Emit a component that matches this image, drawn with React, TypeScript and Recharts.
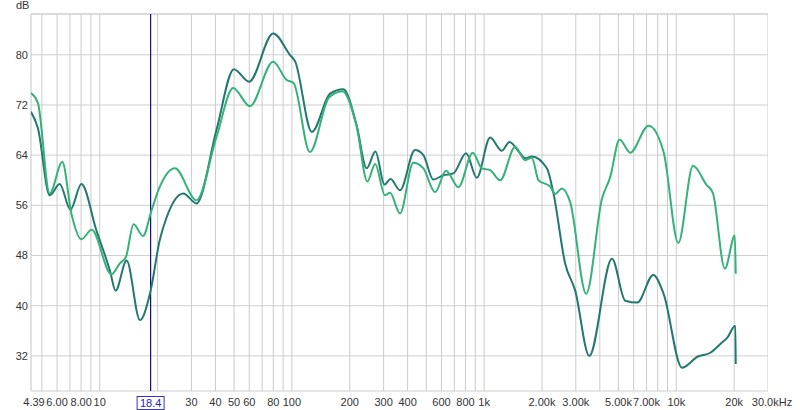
import React from 'react';
import { LineChart, Line, XAxis, YAxis, CartesianGrid, ReferenceLine } from 'recharts';

// frequency response, two measurements (Hz / dB)
const darkFreq = [4.39, 4.77, 5.49, 6.19, 7.04, 8.03, 9.61, 11.3, 12.1, 13.8, 16.2, 18.4, 20.5, 22.3, 27.2, 31.9, 40.5, 49.9, 59.9, 79.9, 97.6, 104, 127, 158, 185, 217, 245, 272, 303, 326, 365, 437, 483, 544, 614, 692, 806, 916, 1075, 1237, 1355, 1540, 1635, 1772, 2122, 2296, 2642, 2979, 3524, 4627, 5425, 6266, 7590, 8589, 10708, 12942, 15034, 16950, 18432, 20290, 20380];
const darkDb = [70.9, 68.3, 57.6, 59.4, 55.3, 59.4, 52.0, 45.6, 42.4, 47.2, 37.7, 42.4, 50.4, 54.1, 57.9, 56.3, 68.0, 77.7, 75.7, 83.4, 80.0, 78.9, 67.7, 73.8, 74.5, 68.8, 61.9, 64.6, 59.3, 60.2, 58.4, 64.8, 64.0, 60.1, 60.8, 61.1, 64.3, 60.4, 66.8, 64.7, 66.1, 64.3, 63.5, 63.8, 61.9, 57.9, 46.7, 42.4, 32.0, 47.5, 40.8, 40.5, 44.9, 41.9, 30.1, 31.9, 32.5, 33.9, 34.9, 36.8, 30.7];

const lightFreq = [4.39, 4.77, 5.49, 6.39, 7.12, 8.03, 9.08, 11.5, 12.7, 13.7, 15.0, 16.8, 18.6, 20.5, 24.6, 31.9, 40.5, 49.5, 60.4, 79.9, 93.8, 102, 124, 156, 183, 217, 247, 271, 305, 324, 365, 428, 483, 556, 634, 735, 873, 973, 1075, 1212, 1450, 1635, 1772, 1918, 2207, 2343, 2540, 2805, 3398, 4102, 4531, 5067, 5759, 7172, 8589, 10242, 12220, 14330, 15490, 17890, 20170, 20380];
const lightDb = [73.9, 72.3, 57.9, 62.9, 54.7, 50.6, 52.1, 45.0, 46.7, 47.8, 53.0, 51.1, 55.2, 58.9, 61.9, 56.8, 66.9, 74.7, 71.8, 78.9, 76.0, 75.5, 64.5, 73.2, 74.2, 68.6, 59.8, 62.6, 57.6, 58.0, 54.7, 62.8, 61.9, 58.1, 61.5, 58.9, 64.4, 61.9, 61.6, 60.0, 65.3, 63.2, 63.6, 60.0, 59.0, 57.8, 58.7, 56.5, 41.9, 57.0, 60.5, 66.5, 64.4, 68.7, 64.5, 50.0, 62.3, 59.3, 58.0, 45.9, 51.2, 45.1];

const xTicks = [4.39, 6, 8, 10, 18.4, 30, 40, 50, 60, 80, 100, 200, 300, 400, 600, 800, 1000, 2000, 3000, 5000, 7000, 10000, 20000, 30000];
const xLabels = ['4.39', '6.00', '8.00', '10', '18.4', '30', '40', '50', '60', '80', '100', '200', '300', '400', '600', '800', '1k', '2.00k', '3.00k', '5.00k', '7.00k', '10k', '20k', '30.0kHz'];
const gridFreqs = [5, 6, 7, 8, 9, 10, 20, 30, 40, 50, 60, 70, 80, 90, 100, 200, 300, 400, 500, 600, 700, 800, 900, 1000, 2000, 3000, 4000, 5000, 6000, 7000, 8000, 9000, 10000, 20000, 30000];
const yTicks = [32, 40, 48, 56, 64, 72, 80];

const cursorFreq = 18.4;
const X_MIN = 4.39;
const X_MAX = 30000;
const Y_MIN = 26.4;
const Y_MAX = 86.5;

const darkData = darkFreq.map((f, i) => ({ f, db: darkDb[i] }));
const lightData = lightFreq.map((f, i) => ({ f, db: lightDb[i] }));

const FONT = 'Arial, "Liberation Sans", sans-serif';

function FreqTick(props: any) {
  const { x, payload, index } = props;
  const label = xLabels[index] ?? String(payload.value);
  // plot bottom sits at y=391
  const base = 391;
  if (payload.value === cursorFreq) {
    return (
      <g>
        <rect x={x - 13.5} y={base + 5.5} width={27} height={13} fill="#fff" stroke="#3333cc" strokeWidth={1} />
        <text x={x} y={base + 15.5} textAnchor="middle" fontSize={11} fontFamily={FONT} fill="#2222bb">{label}</text>
      </g>
    );
  }
  let dx = 0;
  if (index === 0) dx = 3;
  if (index === xTicks.length - 1) dx = 4;
  return (
    <text x={x + dx} y={base + 15} textAnchor="middle" fontSize={11} fontFamily={FONT} fill="#333">{label}</text>
  );
}

export default function App() {
  return (
    <div style={{ position: 'absolute', left: 0, top: 0, width: 800, height: 410, background: '#fff' }}>
      <div style={{ position: 'absolute', left: 16, top: -1, fontSize: 11, fontFamily: FONT, color: '#333' }}>dB</div>
      <LineChart width={800} height={410} margin={{ top: 14, right: 32, left: 0, bottom: 0 }}>
        <CartesianGrid vertical={false} stroke="#cfcfcf" />
        {gridFreqs.map((f) => (
          <ReferenceLine key={f} x={f} stroke="#cbcbcb" ifOverflow="hidden" />
        ))}
        <ReferenceLine x={X_MIN} stroke="#c4c4c4" />
        <ReferenceLine y={Y_MAX} stroke="#cfcfcf" />
        <XAxis
          dataKey="f"
          type="number"
          scale="log"
          domain={[X_MIN, X_MAX]}
          allowDataOverflow
          ticks={xTicks}
          interval={0}
          axisLine={false}
          tickLine={false}
          height={19}
          tick={<FreqTick />}
        />
        <YAxis
          type="number"
          domain={[Y_MIN, Y_MAX]}
          allowDataOverflow
          ticks={yTicks}
          width={31}
          axisLine={false}
          tickLine={false}
          tickSize={1}
          tickMargin={2}
          tick={{ fontSize: 11, fill: '#333', fontFamily: FONT }}
        />
        <ReferenceLine x={cursorFreq} stroke="#10107a" strokeWidth={1.2} />
        <Line data={darkData} dataKey="db" type="monotone" stroke="#23786f" strokeWidth={2} dot={false} isAnimationActive={false} />
        <Line data={lightData} dataKey="db" type="monotone" stroke="#35b27a" strokeWidth={2} dot={false} isAnimationActive={false} />
      </LineChart>
    </div>
  );
}
